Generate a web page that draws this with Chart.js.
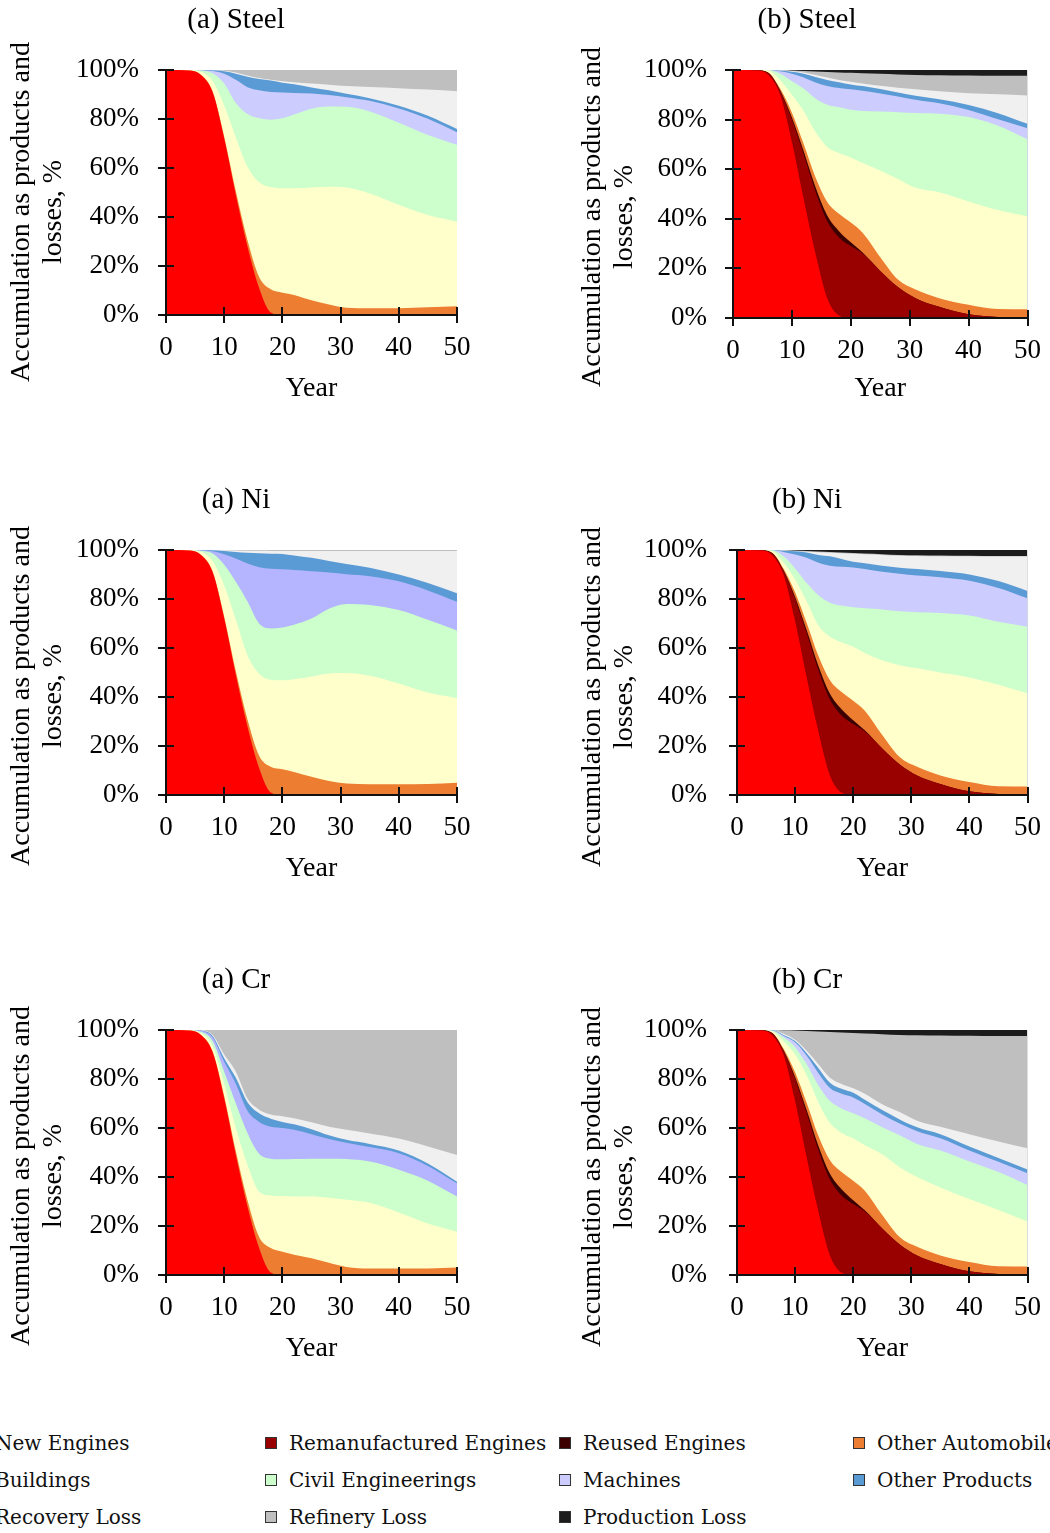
<!DOCTYPE html>
<html>
<head>
<meta charset="utf-8">
<script src="https://cdn.jsdelivr.net/npm/chart.js@4.4.1/dist/chart.umd.min.js"></script>
<style>
  body { margin: 0; background: #fff; width: 1050px; height: 1533px; position: relative; overflow: hidden; }
  canvas { position: absolute; }
  .item { position: absolute; height: 24px; display: flex; align-items: center; white-space: nowrap;
          font-family: 'DejaVu Serif', serif; font-size: 20px; color: #111; }
  .item .box { width: 10px; height: 10px; border: 1px solid #333; margin-right: 12px; flex: none; }
</style>
</head>
<body>
<script>
// years on the x axis
const years = [0, 4, 6, 8, 10, 12, 14, 16, 18, 20, 22, 25, 28, 31, 35, 40, 45, 50];

const seriesNames = ['New Engines', 'Remanufactured Engines', 'Reused Engines', 'Other Automobile',
  'Buildings', 'Civil Engineerings', 'Machines', 'Other Products',
  'Recovery Loss', 'Refinery Loss', 'Production Loss'];

// shares of the material, % (each layer, stacked bottom to top)
const newEnginesA = [100, 99.8, 98, 91, 72, 49, 28, 11, 1, 0, 0, 0, 0, 0, 0, 0, 0, 0];
const newEnginesB = [100, 99.8, 98, 90, 71, 48, 26, 8, 1, 0, 0, 0, 0, 0, 0, 0, 0, 0];
const remanB      = [0, 0.1, 0.8, 1.5, 9, 18, 25, 31, 31.5, 29, 26, 19, 12.5, 8, 4.5, 1.5, 0.4, 0];
const reusedB     = [0, 0, 0.1, 0.3, 0.8, 1.2, 1.8, 2.3, 2.5, 1.5, 0.4, 0, 0, 0, 0, 0, 0, 0];
const otherAutoB  = [0, 0, 0.1, 0.7, 2, 3, 4, 5.5, 7, 8, 8, 5.5, 3, 3.5, 3.5, 3.8, 3.2, 3.5];

// (a) Steel
const steelA_auto      = [0, 0, 0.1, 0.3, 0.8, 1.5, 2.5, 4.5, 9.5, 9.1, 8.2, 6, 4.3, 3, 2.8, 2.8, 3.2, 3.6];
const steelA_buildings = [0, 0.1, 1.2, 4.2, 12.7, 22, 30, 38.7, 41.7, 42.6, 43.5, 46, 48, 49, 46.8, 42.2, 37.6, 34.5];
const steelA_civil     = [0, 0.1, 0.5, 3.2, 9, 14, 21.5, 26.1, 27.5, 28.6, 30.1, 32.2, 32.8, 33, 33.5, 33.5, 32.7, 31.4];
const steelA_machines  = [0, 0, 0.1, 0.9, 4, 9.5, 11, 11.4, 11.3, 10.5, 8.8, 6.2, 4.7, 3.9, 4.3, 5.8, 6.6, 5.1];
const steelA_products  = [0, 0, 0.1, 0.3, 1, 2.5, 4.2, 4.6, 4.7, 4, 3.6, 2.5, 1.9, 1.4, 1.1, 1.1, 1.2, 1.3];
const steelA_recovery  = [0, 0, 0, 0.1, 0.2, 0.5, 0.6, 0.4, 0.3, 0.6, 0.8, 1.6, 2.3, 3.2, 4.6, 7.2, 10.7, 15.4];
const steelA_refinery  = [0, 0, 0, 0, 0.3, 1, 2.2, 3.3, 4, 4.6, 5, 5.5, 6, 6.5, 6.9, 7.4, 8, 8.7];

// (b) Steel
const steelB_buildings  = [0, 0.1, 0.8, 3.5, 7.2, 13.3, 18.2, 22.2, 24.5, 26.2, 28.1, 35, 40.5, 41, 42.7, 41.7, 39.9, 37.5];
const steelB_civil      = [0, 0, 0.2, 2.5, 5.5, 9, 13.5, 17, 18.5, 19.3, 21, 23.8, 27, 30.2, 31.7, 34, 34, 31.1];
const steelB_machines   = [0, 0, 0, 1, 3, 4.5, 6.5, 7.5, 7.7, 8.2, 8.1, 7.2, 6.3, 5.3, 4.2, 2.9, 2.6, 4.4];
const steelB_products   = [0, 0, 0, 0.3, 0.8, 1.5, 2.2, 2.5, 2.4, 2, 1.9, 1.8, 1.6, 1.6, 1.6, 2, 2.5, 1.8];
const steelB_recovery   = [0, 0, 0, 0.1, 0.3, 0.5, 0.8, 1, 0.9, 1.1, 1.1, 1.3, 1.9, 2.6, 3.2, 4.7, 7.6, 11.4];
const steelB_refinery   = [0, 0, 0, 0.05, 0.2, 0.6, 1.4, 2.2, 3, 3.6, 4.1, 4.9, 5.4, 5.8, 6.5, 7.2, 7.5, 8];
const steelB_production = [0, 0, 0, 0.05, 0.2, 0.4, 0.6, 0.8, 1, 1.1, 1.3, 1.5, 1.8, 2, 2.1, 2.2, 2.3, 2.3];

// (a) Ni
const niA_auto      = [0, 0, 0.1, 0.3, 0.8, 1.5, 2.8, 5, 10.5, 10.5, 9.4, 7.4, 5.7, 4.7, 4.4, 4.4, 4.5, 5];
const niA_buildings = [0, 0.1, 1.2, 4.2, 12.7, 21, 26.2, 33.5, 35.5, 36.3, 37.8, 41, 43.9, 45.1, 44.3, 41.1, 37.3, 34.5];
const niA_civil     = [0, 0.1, 0.4, 3.1, 8.5, 15.5, 22, 20.5, 21, 21.6, 22.3, 23.6, 26.4, 28.2, 28.9, 30, 29.7, 27.6];
const niA_machines  = [0, 0, 0.2, 0.9, 4.3, 9.5, 15.5, 23, 24.3, 23.7, 22.3, 19.3, 14.8, 12.1, 11.7, 11.7, 12, 11.8];
const niA_products  = [0, 0, 0.1, 0.4, 1.3, 2.7, 4.4, 5.7, 6.2, 6.3, 6, 5.5, 4.7, 4.2, 3.5, 2.8, 3, 3.4];
const niA_recovery  = [0, 0, 0, 0.1, 0.3, 0.6, 0.8, 1, 1.1, 1.2, 1.8, 2.8, 4.1, 5.3, 6.8, 9.6, 13.1, 17.3];
const niA_refinery  = [0, 0, 0, 0, 0.1, 0.2, 0.3, 0.3, 0.4, 0.4, 0.4, 0.4, 0.4, 0.4, 0.4, 0.4, 0.4, 0.4];

// (b) Ni
const niB_buildings  = [0, 0.1, 0.6, 2.5, 5.2, 8.8, 12.5, 17.8, 20.3, 22, 23.6, 30.5, 37.5, 40.2, 42, 42.7, 41.4, 38];
const niB_civil      = [0, 0, 0.3, 2.5, 4.5, 7.5, 12.2, 13.9, 15, 16.1, 18.2, 20.7, 22, 22.9, 24.3, 25.3, 25.7, 27.2];
const niB_machines   = [0, 0, 0.1, 1.7, 5.7, 10.3, 13.3, 15.1, 15.9, 16.3, 16, 15.4, 15.3, 15, 14.6, 14.2, 13.8, 11.6];
const niB_products   = [0, 0, 0, 0.5, 1.3, 2.2, 3.2, 3.8, 3.1, 2.3, 2.4, 2.5, 2.5, 2.6, 2.5, 2.5, 2.8, 3];
const niB_recovery   = [0, 0, 0, 0.2, 0, 0.3, 1.1, 1.5, 2.4, 3.3, 3.7, 4.4, 4.9, 5.4, 6.1, 7.4, 10, 14];
const niB_refinery   = [0, 0, 0, 0, 0.3, 0.3, 0.3, 0.3, 0.3, 0.3, 0.3, 0.3, 0.3, 0.3, 0.3, 0.3, 0.3, 0.3];
const niB_production = [0, 0, 0, 0.1, 0.2, 0.4, 0.6, 0.8, 1, 1.2, 1.4, 1.7, 2, 2.1, 2.2, 2.3, 2.4, 2.4];

// (a) Cr
const crA_auto      = [0, 0, 0.1, 0.3, 1, 1.5, 2.5, 4.5, 10, 9.5, 8.3, 6.8, 5, 3.3, 2.7, 2.7, 2.7, 3.1];
const crA_buildings = [0, 0.1, 0.7, 2.2, 5, 9.5, 14.5, 18.5, 21.5, 22.7, 23.7, 25.2, 26.5, 27.4, 26.8, 22.8, 18.3, 14.6];
const crA_civil     = [0, 0, 0.5, 2, 5, 10, 13, 15.5, 15, 15, 15.3, 15.5, 16, 16.6, 16.8, 17.5, 17.5, 14.3];
const crA_machines  = [0, 0.1, 0.4, 1.5, 4, 8, 9, 13, 13, 12.8, 12, 10, 8, 6.7, 5.9, 6.7, 6, 5.4];
const crA_products  = [0, 0, 0.1, 0.6, 1.5, 2.5, 3.5, 3.5, 3.3, 2.5, 2.2, 2, 1.5, 1.2, 1.3, 1.1, 1, 0.7];
const crA_recovery  = [0, 0, 0.1, 0.4, 1.5, 2.5, 1.5, 1.5, 1.7, 2.3, 2.5, 2.8, 3.5, 4.1, 4.3, 4.9, 7, 10.9];
const crA_refinery  = [0, 0, 0.1, 2, 10, 17, 28, 32.5, 34.5, 35.2, 36, 37.7, 39.5, 40.7, 42.2, 44.3, 47.5, 51];

// (b) Cr
const crB_buildings  = [0, 0.1, 0.5, 3, 7.2, 11.3, 13.7, 15.2, 16, 17.3, 18.6, 24.8, 28.5, 28.5, 27.7, 25.7, 22.9, 18.3];
const crB_civil      = [0, 0, 0.3, 1.5, 3, 4.5, 7, 9, 10, 10.2, 11, 11, 13, 13.5, 15.1, 15.3, 15.5, 14.9];
const crB_machines   = [0, 0, 0.1, 0.7, 2, 3.5, 5, 5.3, 6, 6.5, 5.8, 5.2, 4.8, 5.2, 5, 4.5, 4.2, 4.8];
const crB_products   = [0, 0, 0.1, 0.3, 0.5, 1, 2, 2.2, 2, 1.9, 1.7, 1.8, 1.7, 1.6, 1.7, 1.7, 1.6, 1.6];
const crB_recovery   = [0, 0, 0, 0.5, 0.5, 1, 1.5, 2, 2, 1.8, 2.5, 2.4, 3, 2.7, 3, 5, 6.7, 8.6];
const crB_refinery   = [0, 0, 0, 1.4, 3.8, 8.1, 13.4, 18.7, 21, 22.6, 24.6, 28.6, 31.5, 34.9, 37.3, 40.2, 43.1, 45.9];
const crB_production = [0, 0, 0, 0.1, 0.2, 0.4, 0.6, 0.8, 1, 1.2, 1.4, 1.7, 2, 2.1, 2.2, 2.3, 2.4, 2.4];

const colors = {
  'New Engines': '#ff0000', 'Remanufactured Engines': '#990000', 'Reused Engines': '#3d0000',
  'Other Automobile': '#ed7d31', 'Buildings': '#ffffcc', 'Civil Engineerings': '#ccffcc',
  'Machines': '#ccccff', 'Other Products': '#5b9bd5', 'Recovery Loss': '#f0f0f0',
  'Refinery Loss': '#bfbfbf', 'Production Loss': '#1c1c1c'
};

const panels = [
  { title: '(a) Steel', left: 0, top: 0, plot: [166, 457, 70, 315], machines: '#ccccff',
    data: { 'New Engines': newEnginesA, 'Other Automobile': steelA_auto, 'Buildings': steelA_buildings,
      'Civil Engineerings': steelA_civil, 'Machines': steelA_machines, 'Other Products': steelA_products,
      'Recovery Loss': steelA_recovery, 'Refinery Loss': steelA_refinery } },
  { title: '(b) Steel', left: 570, top: 0, plot: [163, 459, 70, 318], machines: '#ccccff',
    data: { 'New Engines': newEnginesB, 'Remanufactured Engines': remanB, 'Reused Engines': reusedB,
      'Other Automobile': otherAutoB, 'Buildings': steelB_buildings, 'Civil Engineerings': steelB_civil,
      'Machines': steelB_machines, 'Other Products': steelB_products, 'Recovery Loss': steelB_recovery,
      'Refinery Loss': steelB_refinery, 'Production Loss': steelB_production } },
  { title: '(a) Ni', left: 0, top: 480, plot: [166, 457, 70, 315], machines: '#b4b4ff',
    data: { 'New Engines': newEnginesA, 'Other Automobile': niA_auto, 'Buildings': niA_buildings,
      'Civil Engineerings': niA_civil, 'Machines': niA_machines, 'Other Products': niA_products,
      'Recovery Loss': niA_recovery, 'Refinery Loss': niA_refinery } },
  { title: '(b) Ni', left: 570, top: 480, plot: [167, 458, 70, 315], machines: '#ccccff',
    data: { 'New Engines': newEnginesB, 'Remanufactured Engines': remanB, 'Reused Engines': reusedB,
      'Other Automobile': otherAutoB, 'Buildings': niB_buildings, 'Civil Engineerings': niB_civil,
      'Machines': niB_machines, 'Other Products': niB_products, 'Recovery Loss': niB_recovery,
      'Refinery Loss': niB_refinery, 'Production Loss': niB_production } },
  { title: '(a) Cr', left: 0, top: 960, plot: [166, 457, 70, 315], machines: '#b4b4ff',
    data: { 'New Engines': newEnginesA, 'Other Automobile': crA_auto, 'Buildings': crA_buildings,
      'Civil Engineerings': crA_civil, 'Machines': crA_machines, 'Other Products': crA_products,
      'Recovery Loss': crA_recovery, 'Refinery Loss': crA_refinery } },
  { title: '(b) Cr', left: 570, top: 960, plot: [167, 458, 70, 315], machines: '#ccccff',
    data: { 'New Engines': newEnginesB, 'Remanufactured Engines': remanB, 'Reused Engines': reusedB,
      'Other Automobile': otherAutoB, 'Buildings': crB_buildings, 'Civil Engineerings': crB_civil,
      'Machines': crB_machines, 'Other Products': crB_products, 'Recovery Loss': crB_recovery,
      'Refinery Loss': crB_refinery, 'Production Loss': crB_production } }
];

const FONT = "'Liberation Serif', 'Times New Roman', serif";
const W = 480, H = 410;

// titles, rotated y titles and the inward half of each tick mark
const panelText = {
  id: 'panelText',
  afterDraw(chart, args, o) {
    const { ctx, chartArea: a, scales } = chart;
    ctx.save();
    ctx.strokeStyle = '#111';
    ctx.lineWidth = 2;
    scales.y.ticks.forEach(t => {
      const y = Math.round(scales.y.getPixelForValue(t.value));
      ctx.beginPath(); ctx.moveTo(a.left, y); ctx.lineTo(a.left + 8, y); ctx.stroke();
    });
    scales.x.ticks.forEach(t => {
      const x = Math.round(scales.x.getPixelForValue(t.value));
      ctx.beginPath(); ctx.moveTo(x, a.bottom); ctx.lineTo(x, a.bottom - 8); ctx.stroke();
    });
    ctx.fillStyle = '#000';
    ctx.textAlign = 'center';
    ctx.textBaseline = 'middle';
    ctx.font = '29px ' + FONT;
    ctx.fillText(o.title, o.titleX, 20);
    ctx.font = '28px ' + FONT;
    ctx.translate(o.yTitleX, o.yTitleY);
    ctx.rotate(-Math.PI / 2);
    ctx.fillText('Accumulation as products and', 0, 0);
    ctx.fillText('losses, %', 0, 32);
    ctx.restore();
  }
};

panels.forEach((p, k) => {
  const cv = document.createElement('canvas');
  cv.width = W; cv.height = H;
  cv.style.left = p.left + 'px'; cv.style.top = p.top + 'px';
  document.body.appendChild(cv);
  const [pl, pr, pt, pb] = p.plot;

  const datasets = seriesNames.filter(n => p.data[n]).map(n => ({
    label: n,
    data: years.map((x, i) => ({ x: x, y: p.data[n][i] })),
    backgroundColor: n === 'Machines' ? p.machines : colors[n],
    borderWidth: 0,
    pointRadius: 0,
    fill: 'origin',
    cubicInterpolationMode: 'monotone'
  }));

  const tickFont = { family: FONT, size: 27 };
  new Chart(cv, {
    type: 'line',
    data: { datasets },
    options: {
      responsive: false,
      animation: false,
      events: [],
      layout: { padding: { left: 0, right: W - pr, top: pt, bottom: 0 } },
      plugins: {
        legend: { display: false },
        tooltip: { enabled: false },
        panelText: {
          title: p.title,
          titleX: p.left === 0 ? 236 : 237,
          yTitleX: p.left === 0 ? 22 : 23,
          yTitleY: p.left === 0 ? (k === 0 ? 212 : 216) : 217
        }
      },
      scales: {
        x: {
          type: 'linear', min: 0, max: 50,
          ticks: { stepSize: 10, font: tickFont, color: '#000', padding: 9, maxRotation: 0 },
          grid: { drawOnChartArea: false, tickLength: 8, color: '#111', lineWidth: 2, z: 1 },
          border: { color: '#111', width: 2, z: 1 },
          title: { display: true, text: 'Year', font: { family: FONT, size: 28 }, color: '#000',
                   padding: { top: 0, bottom: 5 } },
          afterFit: s => { s.height = H - pb; }
        },
        y: {
          stacked: true, min: 0, max: 100,
          ticks: { stepSize: 20, font: tickFont, color: '#000', callback: v => v + '%',
                   padding: p.left === 0 ? 19 : (pl - 8 - 137) },
          grid: { drawOnChartArea: false, tickLength: 8, color: '#111', lineWidth: 2, z: 1 },
          border: { color: '#111', width: 2, z: 1 },
          afterFit: s => { s.width = pl; }
        }
      }
    },
    plugins: [panelText]
  });
});

// legend, 4 columns, cut at the page edges like the original
const legendCols = [-29, 265, 559, 853];
const legendRows = [1443, 1480, 1517];
seriesNames.forEach((n, i) => {
  const d = document.createElement('div');
  d.className = 'item';
  d.style.left = legendCols[i % 4] + 'px';
  d.style.top = (legendRows[Math.floor(i / 4)] - 12) + 'px';
  const b = document.createElement('span');
  b.className = 'box';
  b.style.background = colors[n];
  d.appendChild(b);
  d.appendChild(document.createTextNode(n));
  document.body.appendChild(d);
});
</script>
</body>
</html>
